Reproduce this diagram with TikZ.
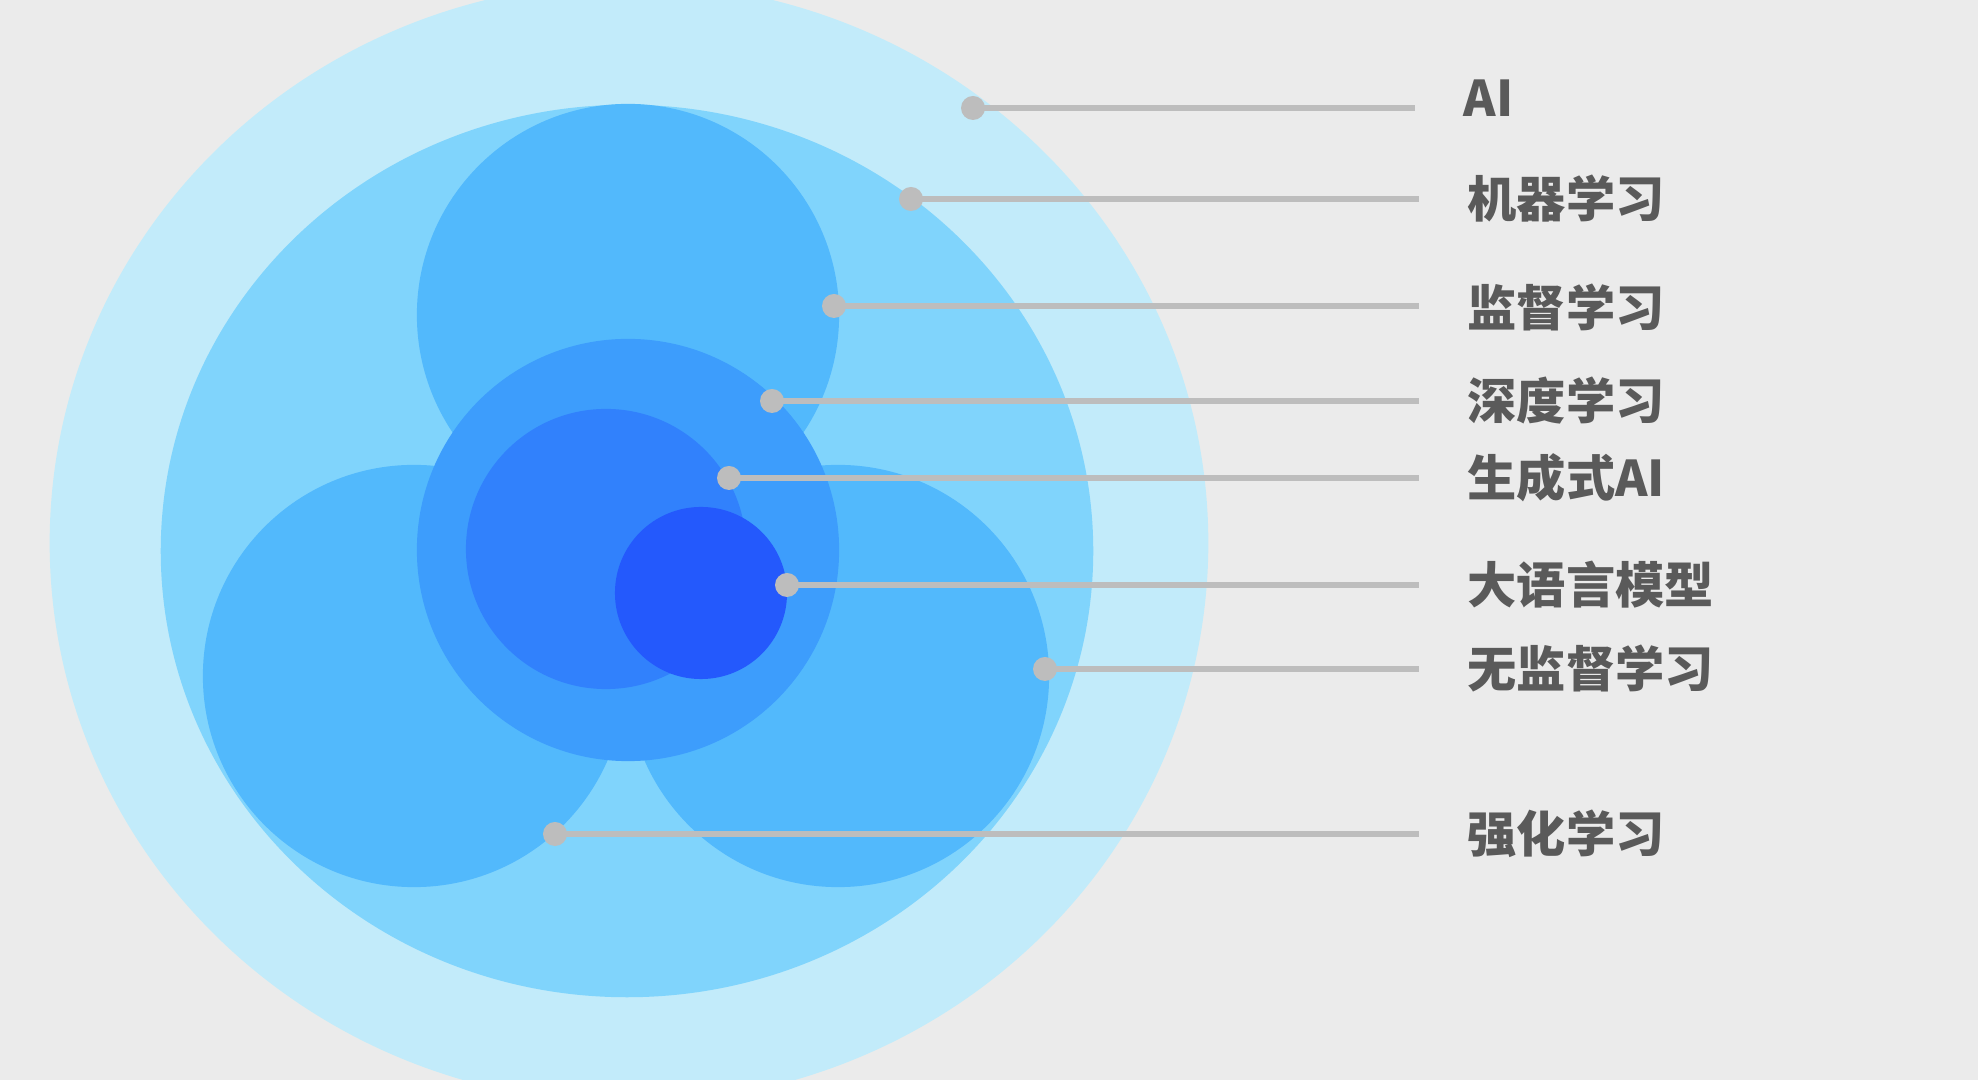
\documentclass[tikz,border=0pt]{standalone}
\usepackage{fontspec}
\usepackage{tikz}
\usepackage{xcolor}
\usetikzlibrary{shapes.geometric, positioning, calc}
\newfontfamily\labelfont{Noto Sans CJK SC}[BoldFont={Noto Sans CJK SC Black}]
\definecolor{BgGray}{HTML}{EBEBEB}
\definecolor{AiBlue}{HTML}{C2EBFA}
\definecolor{MlBlue}{HTML}{80D4FC}
\definecolor{SubBlue}{HTML}{52B9FC}
\definecolor{DeepBlue}{HTML}{3D9DFC}
\definecolor{GenBlue}{HTML}{3181FC}
\definecolor{LlmBlue}{HTML}{2459FC}
\definecolor{LeadGray}{HTML}{BDBDBD}
\definecolor{TextGray}{HTML}{5A5A5A}

\begin{document}
\begin{tikzpicture}[x=0.01cm, y=-0.01cm,
    zone/.style={ellipse, inner sep=0pt, draw=none},
    ball/.style={circle, inner sep=0pt, draw=none},
    dot/.style={circle, fill=LeadGray, inner sep=0pt, minimum size=0.24cm},
    leader/.style={draw=LeadGray, line width=0.06cm, shorten >=0.48cm},
    tag/.style={anchor=west, inner sep=0pt, text=TextGray,
                font=\labelfont\bfseries\fontsize{14}{16}\selectfont}]
    \useasboundingbox (0,0) rectangle (1978,1080);
    \clip (0,0) rectangle (1978,1080);
    \fill[BgGray] (0,0) rectangle (1978,1080);

    % Sets
    \node[zone, fill=AiBlue, minimum width=11.58cm, minimum height=11.2cm] (ai) at (629,543) {};
    \node[zone, fill=MlBlue, minimum width=9.32cm, minimum height=8.92cm] (ml) at (627,551) {};
    \node[ball, fill=SubBlue, minimum size=4.22cm] (sup) at (628,315) {};
    \node[ball, fill=SubBlue, minimum size=4.22cm] (rl) at (414,676) {};
    \node[ball, fill=SubBlue, minimum size=4.22cm] (unsup) at (838,676) {};
    \node[ball, fill=DeepBlue, minimum size=4.22cm] (deep) at (628,550) {};
    \node[ball, fill=GenBlue, minimum size=2.8cm] (gen) at (606,549) {};
    \node[ball, fill=LlmBlue, minimum size=1.72cm] (llm) at (701,593) {};

    % Labels
    \node[tag] (l-ai) at (1463,98) {AI};
    \node[tag] (l-ml) at (1467,199) {机器学习};
    \node[tag] (l-sup) at (1467,307) {监督学习};
    \node[tag] (l-deep) at (1467,401) {深度学习};
    \node[tag] (l-gen) at (1467,478) {生成式AI};
    \node[tag] (l-llm) at (1467,585) {大语言模型};
    \node[tag] (l-unsup) at (1467,669) {无监督学习};
    \node[tag] (l-rl) at (1467,834) {强化学习};

    % Dots
    \node[dot] (d-ai) at (973,108) {};
    \node[dot] (d-ml) at (911,199) {};
    \node[dot] (d-sup) at (834,306) {};
    \node[dot] (d-deep) at (772,401) {};
    \node[dot] (d-gen) at (729,478) {};
    \node[dot] (d-llm) at (787,585) {};
    \node[dot] (d-unsup) at (1045,669) {};
    \node[dot] (d-rl) at (555,834) {};

    % Leaders
    \draw[leader] (d-ai.center) -- (d-ai -| l-ai.west);
    \draw[leader] (d-ml.center) -- (d-ml -| l-ml.west);
    \draw[leader] (d-sup.center) -- (d-sup -| l-sup.west);
    \draw[leader] (d-deep.center) -- (d-deep -| l-deep.west);
    \draw[leader] (d-gen.center) -- (d-gen -| l-gen.west);
    \draw[leader] (d-llm.center) -- (d-llm -| l-llm.west);
    \draw[leader] (d-unsup.center) -- (d-unsup -| l-unsup.west);
    \draw[leader] (d-rl.center) -- (d-rl -| l-rl.west);
\end{tikzpicture}
\end{document}
